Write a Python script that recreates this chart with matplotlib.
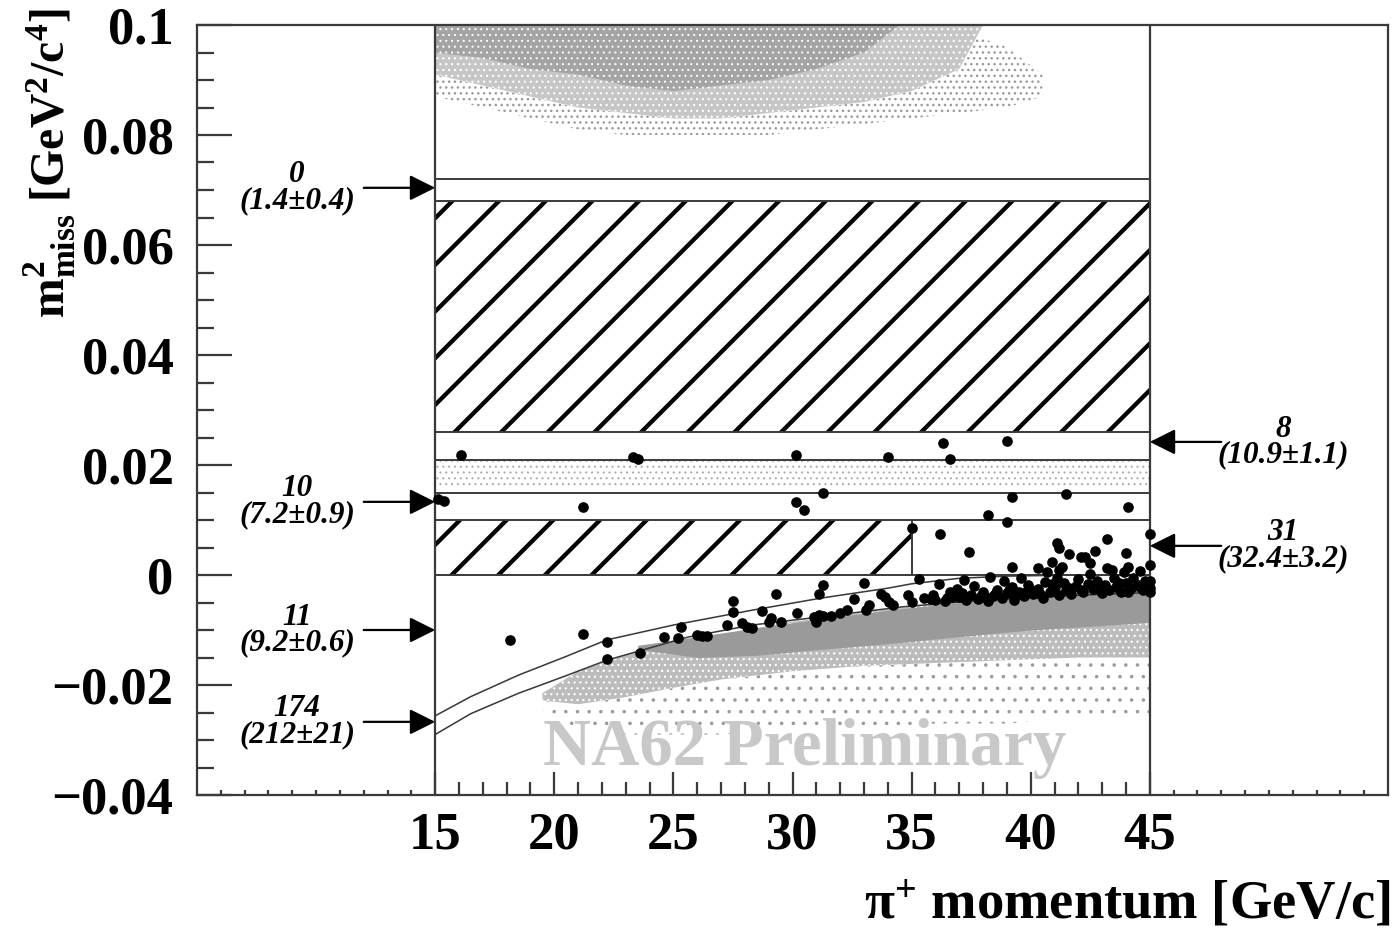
import matplotlib
matplotlib.use('Agg')
import matplotlib.pyplot as plt

plt.rcParams['font.family'] = 'Liberation Serif'
plt.rcParams['font.weight'] = 'bold'
plt.rcParams['mathtext.fontset'] = 'custom'
plt.rcParams['mathtext.rm'] = 'Liberation Serif:bold'
plt.rcParams['mathtext.it'] = 'Liberation Serif:italic:bold'
plt.rcParams['mathtext.bf'] = 'Liberation Serif:bold'
plt.rcParams['hatch.linewidth'] = 2.2

DPI = 140

# signal region boundaries (GeV^2/c^4)
region_lines = [0.072, 0.068, 0.026, 0.021, 0.015, 0.010, 0.0]
hatch_big = (15, 45, 0.026, 0.068)
hatch_small = (15, 35, 0.0, 0.010)

# kinematic curves
up_x = [15, 16.5, 18.5, 20.5, 22.2, 25, 28.3, 31.2, 34, 35, 37, 39, 42, 45]
up_y = [-0.0256, -0.0221, -0.0182, -0.0148, -0.0118, -0.0091, -0.0064, -0.0042,
        -0.0024, -0.0016, -0.0006, -0.0002, 0.0, 0.0]
lo_x = [15, 16.5, 18.5, 20.5, 22.2, 25.6, 28.3, 31.2, 34.6, 37, 40, 42.5, 45]
lo_y = [-0.0290, -0.0252, -0.0215, -0.0183, -0.0155, -0.0113, -0.0091, -0.0076,
        -0.0058, -0.0049, -0.0041, -0.0036, -0.0032]

# simulated background clouds (grey), read as envelopes
top_x = [15, 17, 19, 21, 23, 25, 27, 29, 31, 33, 35, 37, 39, 40.5]
top_sparse_lo = [0.087, 0.085, 0.083, 0.081, 0.080, 0.080, 0.080, 0.080, 0.081, 0.082,
                 0.083, 0.084, 0.085, 0.087]
top_sparse_hi = [0.1, 0.1, 0.1, 0.1, 0.1, 0.1, 0.1, 0.1, 0.1, 0.1, 0.1, 0.099, 0.096, 0.091]
top_mid_x = [15, 17, 19, 21, 23, 25, 27, 29, 31, 33, 35, 37, 38]
top_mid_lo = [0.091, 0.089, 0.087, 0.085, 0.084, 0.083, 0.083, 0.084, 0.085, 0.086,
              0.088, 0.092, 0.1]
top_dense_x = [15, 17, 19, 21, 23, 25, 27, 29, 31, 33, 34.5]
top_dense_lo = [0.095, 0.094, 0.092, 0.091, 0.089, 0.088, 0.089, 0.090, 0.092, 0.095, 0.1]

band_x = [15, 30, 45]
band_lo = [0.0158, 0.0158, 0.0158]
band_hi = [0.0207, 0.0207, 0.0207]

core_x = [23.5, 26, 28.5, 31, 34, 37, 40, 43, 45]
core_top = [-0.0128, -0.0112, -0.0096, -0.0081, -0.0064, -0.0050, -0.0040, -0.0032, -0.0026]
core_bot = [-0.0135, -0.0150, -0.0146, -0.0136, -0.0125, -0.0112, -0.0100, -0.0092, -0.0086]

halo_x = [19.5, 21, 23, 25, 27, 30, 33, 36, 39, 42, 45]
halo_top = [-0.0215, -0.0175, -0.0145, -0.0125, -0.0108, -0.0085, -0.0068, -0.0052,
            -0.0042, -0.0034, -0.0028]
halo_bot = [-0.0228, -0.0235, -0.0222, -0.0205, -0.0190, -0.0175, -0.0165, -0.0160,
            -0.0155, -0.0150, -0.0150]
outer_bot = [-0.0245, -0.028, -0.029, -0.029, -0.029, -0.028, -0.028, -0.027,
             -0.027, -0.026, -0.026]

# data events (black)
evt_x = [16.1, 23.3, 23.5, 30.15, 34.0, 36.3, 36.6, 39.0,
         15.1, 15.35, 21.2, 30.15, 30.5, 31.3, 39.2, 41.5, 44.1, 38.2, 39.0,
         35.0, 36.2, 37.4, 45.0, 43.2, 41.1, 41.2, 41.6, 42.1, 42.3, 42.7, 42.5, 44.0,
         40.9, 45.0, 39.2, 40.3, 41.3, 43.2, 44.1, 41.2,
         18.15, 21.2, 22.2, 22.2, 23.6, 24.6, 25.2, 25.3, 26.0, 26.2, 26.4, 27.25,
         27.5, 27.5, 27.9, 28.1, 28.3, 28.7, 29.0, 29.1, 29.5, 29.3, 30.2, 30.9,
         31.1, 31.3, 31.6, 31.0, 31.1, 31.3, 32.0, 32.3, 32.6, 33.0, 33.2, 33.1,
         33.7, 33.9, 34.05, 34.2, 34.85, 35.0, 35.3, 36.15, 35.5, 35.8, 36.0, 36.5,
         36.7, 37.2, 38.3,
         37.0, 37.3, 37.5, 37.8, 38.0, 38.2, 38.4, 38.6, 38.8, 39.0, 39.2, 39.3,
         39.5, 39.7, 39.9, 40.1, 40.3, 40.5, 40.6, 40.8, 41.0, 41.2, 41.4, 41.5,
         41.7, 41.9, 42.0, 42.2, 42.4, 42.6, 42.8, 43.0, 43.1, 43.3, 43.5, 43.6,
         43.8, 44.0, 44.2, 44.3, 44.5, 44.7, 44.8, 44.9, 45.0, 36.6, 36.9, 38.9,
         39.6, 40.0, 41.1, 42.5, 43.9, 37.6, 45.0, 44.6, 43.4, 40.7,
         37.1, 37.9, 38.5, 39.1, 39.8, 40.4, 40.9, 41.6, 42.1, 42.7, 43.2, 43.7,
         44.1, 44.6, 45.0, 35.9, 36.4, 38.1, 39.4, 42.9]
evt_y = [0.0218, 0.0215, 0.0211, 0.0218, 0.0215, 0.0240, 0.0211, 0.0244,
         0.0138, 0.0134, 0.0124, 0.0133, 0.0118, 0.0149, 0.0142, 0.0147, 0.0124, 0.0109, 0.0097,
         0.0085, 0.0075, 0.0042, 0.0075, 0.0065, 0.0058, 0.0049, 0.0038, 0.0033, 0.0033,
         0.0044, 0.0022, 0.0040,
         0.0024, 0.0018, 0.0015, 0.0013, 0.0015, 0.0013, 0.0015, 0.0009,
         -0.0118, -0.0107, -0.0122, -0.0153, -0.0142, -0.0113, -0.0115, -0.0095,
         -0.0109, -0.0111, -0.0111, -0.0091,
         -0.0047, -0.0067, -0.0088, -0.0095, -0.0096, -0.0065, -0.0085, -0.0078,
         -0.0085, -0.0035, -0.0069, -0.0076,
         -0.0073, -0.0075, -0.0075, -0.0085, -0.0035, -0.0018, -0.0069, -0.0064,
         -0.0044, -0.0015, -0.0055, -0.0064,
         -0.0035, -0.0040, -0.0049, -0.0055, -0.0036, -0.0049, -0.0007, -0.0016,
         -0.0042, -0.0044, -0.0045, -0.0042,
         -0.0040, -0.0009, -0.0004,
         -0.0040, -0.0046, -0.0036, -0.0043, -0.0031, -0.0047, -0.0038, -0.0027,
         -0.0042, -0.0033, -0.0022, -0.0045,
         -0.0030, -0.0038, -0.0018, -0.0035, -0.0026, -0.0041, -0.0012, -0.0030,
         -0.0022, -0.0037, -0.0015, -0.0028,
         -0.0035, -0.0020, -0.0008, -0.0030, -0.0016, -0.0025, -0.0010, -0.0033,
         -0.0019, -0.0027, -0.0006, -0.0022,
         -0.0030, -0.0014, -0.0024, -0.0005, -0.0018, -0.0028, -0.0010, -0.0021,
         -0.0030, -0.0030, -0.0025, -0.0010,
         -0.0005, -0.0028, -0.0005, 0.0002, 0.0005, -0.0020, -0.0010, 0.0008, 0.0010, 0.0005,
         -0.0032, -0.0038, -0.0034, -0.0028, -0.0031, -0.0034, -0.0017, -0.0024,
         -0.0027, -0.0018, -0.0026, -0.0015, -0.0031, -0.0021, -0.0024, -0.0036,
         -0.0048, -0.0040, -0.0037, -0.0028]

# observed events and (expected background) per region
left_y = [0.0704, 0.0133, -0.0100, -0.0267]
left_obs = ['0', '10', '11', '174']
left_exp = ['(1.4±0.4)', '(7.2±0.9)', '(9.2±0.6)', '(212±21)']
right_y = [0.0242, 0.0053]
right_obs = ['8', '31']
right_exp = ['(10.9±1.1)', '(32.4±3.2)']

xticks = [15, 20, 25, 30, 35, 40, 45]
yticks = [-0.04, -0.02, 0.0, 0.02, 0.04, 0.06, 0.08, 0.1]
ytick_labels = ['\u22120.04', '\u22120.02', '0', '0.02', '0.04', '0.06', '0.08', '0.1']

fig = plt.figure(figsize=(1393 / DPI, 930 / DPI), dpi=DPI)
ax = fig.add_axes([197 / 1393, 135 / 930, 1191 / 1393, 770 / 930])
ax.set_xlim(5, 55)
ax.set_ylim(-0.04, 0.1)

grey = '#9a9a9a'


def cloud(x, lo, hi, face, pattern, dot_color, lw=0.5):
    c = ax.fill_between(x, lo, hi, facecolor=face, edgecolor=dot_color,
                        hatch=pattern, linewidth=0, zorder=1)
    if hasattr(c, 'set_hatch_linewidth'):
        c.set_hatch_linewidth(lw)
    return c


# grey background clouds
cloud(top_x, top_sparse_lo, top_sparse_hi, 'none', '....', grey, 0.7)
cloud(top_mid_x, top_mid_lo, 0.1, '#c6c6c6', '....', 'white', 0.6)
cloud(top_dense_x, top_dense_lo, 0.1, '#a4a4a4', '....', 'white', 0.5)
cloud(band_x, band_lo, band_hi, 'none', '....', '#aaaaaa', 0.5)
cloud(halo_x, outer_bot, halo_bot, 'none', '..', grey, 0.6)
cloud(halo_x, halo_bot, halo_top, '#bcbcbc', '....', 'white', 0.6)
ax.fill_between(core_x, core_bot, core_top, color=grey, linewidth=0, zorder=1)

# hatched regions
for x0, x1, y0, y1 in [hatch_big, hatch_small]:
    h = ax.fill_between([x0, x1], [y0, y0], [y1, y1], facecolor='none',
                        edgecolor='black', hatch='/', linewidth=0, zorder=2)
    if hasattr(h, 'set_hatch_linewidth'):
        h.set_hatch_linewidth(2.2)

line_c = '#3a3a3a'
ax.hlines(region_lines, 15, 45, color=line_c, lw=1.0, zorder=3)
ax.vlines(35, 0.0, 0.010, color=line_c, lw=1.0, zorder=3)
ax.axvline(15, color=line_c, lw=1.15, zorder=3)
ax.axvline(45, color=line_c, lw=1.15, zorder=3)
ax.plot(up_x, up_y, color=line_c, lw=0.8, zorder=3)
ax.plot(lo_x, lo_y, color=line_c, lw=0.8, zorder=3)

ax.scatter(evt_x, evt_y, s=30, color='black', linewidths=0, zorder=4)

# annotations
arrow = dict(arrowstyle='-|>,head_length=0.8,head_width=0.4', mutation_scale=14,
             lw=1.15, color='black', shrinkA=0, shrinkB=0)
for y, n, e in zip(left_y, left_obs, left_exp):
    ax.text(9.2, y, n + '\n' + e, ha='center', va='center', style='italic',
            fontsize=16, linespacing=0.85)
    ax.annotate('', xy=(15, y), xytext=(12, y), arrowprops=arrow)
for y, n, e in zip(right_y, right_obs, right_exp):
    ax.text(50.6, y, n + '\n' + e, ha='center', va='center', style='italic',
            fontsize=16, linespacing=0.85)
    ax.annotate('', xy=(45, y), xytext=(48, y), arrowprops=arrow)

ax.text(30.5, -0.0315, 'NA62 Preliminary', color='#c8c8c8', fontsize=34.3,
        ha='center', va='center', fontweight='bold', zorder=5)

# axes styling
for s in ax.spines.values():
    s.set_color(line_c)
    s.set_linewidth(1.15)

ax.set_xticks(xticks)
ax.set_xticklabels([str(t) for t in xticks])
ax.set_xticks(list(range(15, 46)), minor=True)
ax.set_yticks(yticks)
ax.set_yticklabels(ytick_labels)
ax.set_yticks([-0.04 + 0.005 * i for i in range(29)], minor=True)

ax.tick_params(axis='y', which='major', direction='in', length=18, width=1.15,
               color=line_c, pad=12, labelsize=27.1)
ax.tick_params(axis='y', which='minor', direction='in', length=8.7, width=1.15, color=line_c)
ax.tick_params(axis='x', which='major', direction='in', length=11.9, width=1.15,
               color=line_c, pad=8.6, labelsize=27.1)
ax.tick_params(axis='x', which='minor', direction='in', length=6.7, width=1.15, color=line_c)

sec = ax.secondary_xaxis('bottom')
sec.set_xticks([6, 7, 8, 9, 10, 11, 12, 13, 14, 46, 47, 48, 49, 50, 51, 52, 53, 54])
sec.set_xticklabels([])
sec.tick_params(direction='in', length=2.6, width=1.15, color=line_c)
sec.spines['bottom'].set_visible(False)

fig.text(50 / 1393, 1 - 8 / 930, r'$\mathrm{m^{2}_{miss}}$ [GeV$^{2}$/c$^{4}$]',
         rotation=90, ha='center', va='top', fontsize=24.5)
fig.text(1390 / 1393, 1 - 905 / 930, r'$\mathrm{\pi^{+}}$ momentum [GeV/c]',
         ha='right', va='center', fontsize=28)

fig.savefig('out.png', dpi=DPI)
